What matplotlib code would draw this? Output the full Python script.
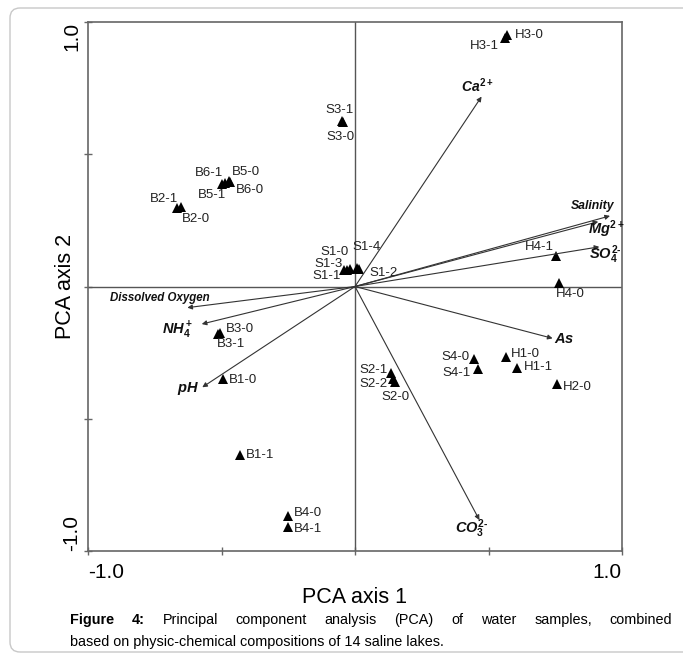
import numpy as np
import matplotlib
matplotlib.use('Agg')
import matplotlib.pyplot as plt
from matplotlib.patches import FancyBboxPatch

plt.rcParams['font.family'] = ['Liberation Sans', 'DejaVu Sans']
plt.rcParams['mathtext.fontset'] = 'custom'
plt.rcParams['mathtext.rm'] = 'Liberation Sans:bold'
plt.rcParams['mathtext.it'] = 'Liberation Sans:bold:italic'
plt.rcParams['mathtext.bf'] = 'Liberation Sans:bold'

# sample scores
samples = ['H3-0', 'H3-1', 'S3-1', 'S3-0', 'B6-1', 'B5-0', 'B5-1', 'B6-0',
           'B2-1', 'B2-0', 'S1-0', 'S1-3', 'S1-1', 'S1-4', 'S1-2', 'H4-1',
           'H4-0', 'B3-0', 'B3-1', 'B1-0', 'B1-1', 'B4-0', 'B4-1', 'S2-1',
           'S2-2', 'S2-0', 'S4-0', 'S4-1', 'H1-0', 'H1-1', 'H2-0']
pc1 = [0.569, 0.562, -0.049, -0.045, -0.487, -0.472, -0.498, -0.468,
       -0.667, -0.652, -0.019, -0.030, -0.041, 0.007, 0.015, 0.753,
       0.764, -0.506, -0.513, -0.494, -0.431, -0.251, -0.251, 0.135,
       0.142, 0.150, 0.446, 0.461, 0.566, 0.607, 0.757]
pc2 = [0.951, 0.940, 0.626, 0.622, 0.391, 0.399, 0.388, 0.395,
       0.297, 0.301, 0.066, 0.064, 0.062, 0.070, 0.068, 0.115,
       0.013, -0.176, -0.180, -0.350, -0.637, -0.868, -0.909, -0.327,
       -0.350, -0.361, -0.274, -0.312, -0.267, -0.308, -0.369]

# variable loadings
variables = [r'$Ca^{2+}$', 'Salinity', r'$Mg^{2+}$', r'$SO_4^{2\text{-}}$', r'$As$',
             r'$CO_3^{2\text{-}}$', 'Dissolved Oxygen', r'$NH_4^+$', r'$pH$']
load1 = [0.474, 0.955, 0.911, 0.915, 0.740, 0.466, -0.628, -0.574, -0.572]
load2 = [0.718, 0.267, 0.245, 0.150, -0.196, -0.883, -0.080, -0.142, -0.381]

# label offsets in pixels (dx, dy) and alignment
s_off = {
    'H3-0': (8, 0, 'left'), 'H3-1': (-6, -8, 'right'),
    'S3-1': (-2, 11, 'center'), 'S3-0': (-3, -15, 'center'),
    'B6-1': (-2, 10, 'right'), 'B5-0': (3, 9, 'left'),
    'B5-1': (-10, -11, 'center'), 'B6-0': (6, -8, 'left'),
    'B2-1': (1, 9, 'right'), 'B2-0': (1, -12, 'left'),
    'S1-0': (-1, 17, 'right'), 'S1-3': (-4, 6, 'right'),
    'S1-1': (-3, -6, 'right'), 'S1-4': (-4, 21, 'left'),
    'S1-2': (10, -4, 'left'), 'H4-1': (-2, 9, 'right'),
    'H4-0': (-3, -11, 'left'), 'B3-0': (6, 4, 'left'),
    'B3-1': (-1, -10, 'left'), 'B1-0': (6, -1, 'left'),
    'B1-1': (6, 0, 'left'), 'B4-0': (6, 3, 'left'), 'B4-1': (6, -2, 'left'),
    'S2-1': (-3, 3, 'right'), 'S2-2': (-5, -5, 'right'),
    'S2-0': (0, -15, 'center'), 'S4-0': (-5, 2, 'right'),
    'S4-1': (-7, -4, 'right'), 'H1-0': (5, 3, 'left'),
    'H1-1': (7, 1, 'left'), 'H2-0': (6, -3, 'left'),
}
v_off = [(-4, 11, 10), (-17, 10, 8.8), (8, -8, 10.5), (6, -8, 10.5), (12, -1, 10.5),
         (-8, -9, 10.5), (-28, 10, 8.3), (-24, -6, 10.5), (-14, -1, 10.5)]

W, H = 683, 657
fig = plt.figure(figsize=(W / 100, H / 100), dpi=100)

# border of the figure panel
fig.patches.append(FancyBboxPatch((10, 5), 700, 644,
                                  boxstyle='round,pad=0,rounding_size=10',
                                  transform=None, fc='none', ec='#c8c8c8', lw=1))

ax = fig.add_axes([88 / W, 1 - 551 / H, (622 - 88) / W, (551 - 22) / H])
ax.set_xlim(-1, 1)
ax.set_ylim(-1, 1)
for s in ax.spines.values():
    s.set_color('#666666')
    s.set_linewidth(1.2)
ax.axhline(0, color='#555555', lw=1)
ax.axvline(0, color='#555555', lw=1)

ax.set_xticks([-1, -0.5, 0, 0.5, 1])
ax.set_xticklabels(['-1.0', '', '', '', '1.0'], fontsize=15)
ax.set_yticks([-1, -0.5, 0, 0.5, 1])
ax.set_yticklabels(['-1.0', '', '', '', '1.0'], fontsize=15, rotation=90)
ax.tick_params(direction='inout', length=6, width=1, color='#666666')
ax.tick_params(axis='x', pad=6)
ax.tick_params(axis='y', pad=2)
xl = ax.get_xticklabels()
xl[0].set_ha('left')
xl[-1].set_ha('right')
yl = ax.get_yticklabels()
yl[0].set_va('bottom')
yl[-1].set_va('top')
ax.set_xlabel('PCA axis 1', fontsize=15.5, va='center')
ax.set_ylabel('PCA axis 2', fontsize=15.5, va='center')
ax.xaxis.set_label_coords(0.5, -0.087)
ax.yaxis.set_label_coords(-0.043, 0.5)

# loadings as arrows
for name, a, b, (dx, dy, fs) in zip(variables, load1, load2, v_off):
    ax.annotate('', xy=(a, b), xytext=(0, 0),
                arrowprops=dict(arrowstyle='-|>', color='#333333', lw=0.8,
                                mutation_scale=7, shrinkA=0, shrinkB=0))
    ax.annotate(name, xy=(a, b), xytext=(dx, dy), textcoords='offset pixels',
                ha='center', va='center', fontsize=fs, fontweight='bold',
                style='italic', color='#111111')

# samples
ax.plot(pc1, pc2, '^', color='black', ms=6.5, mew=0)
for name, a, b in zip(samples, pc1, pc2):
    dx, dy, ha = s_off[name]
    ax.annotate(name, xy=(a, b), xytext=(dx, dy), textcoords='offset pixels',
                ha=ha, va='center', fontsize=9.5, color='#222222')

# caption, first line justified
cap_fs = 10.4
words = [('Figure', 'bold'), ('4:', 'bold'), ('Principal', 'normal'),
         ('component', 'normal'), ('analysis', 'normal'), ('(PCA)', 'normal'),
         ('of', 'normal'), ('water', 'normal'), ('samples,', 'normal'),
         ('combined', 'normal')]
r = fig.canvas.get_renderer()
objs = [fig.text(0, 1 - 620 / H, w, fontsize=cap_fs, fontweight=wt, va='center')
        for w, wt in words]
widths = [t.get_window_extent(renderer=r).width for t in objs]
gap = (672 - 70 - sum(widths)) / (len(objs) - 1)
x = 70
for t, wd in zip(objs, widths):
    t.set_x(x / W)
    x += wd + gap
fig.text(70 / W, 1 - 642 / H,
         'based on physic-chemical compositions of 14 saline lakes.',
         fontsize=cap_fs, va='center')

fig.savefig('out.png', dpi=100)
